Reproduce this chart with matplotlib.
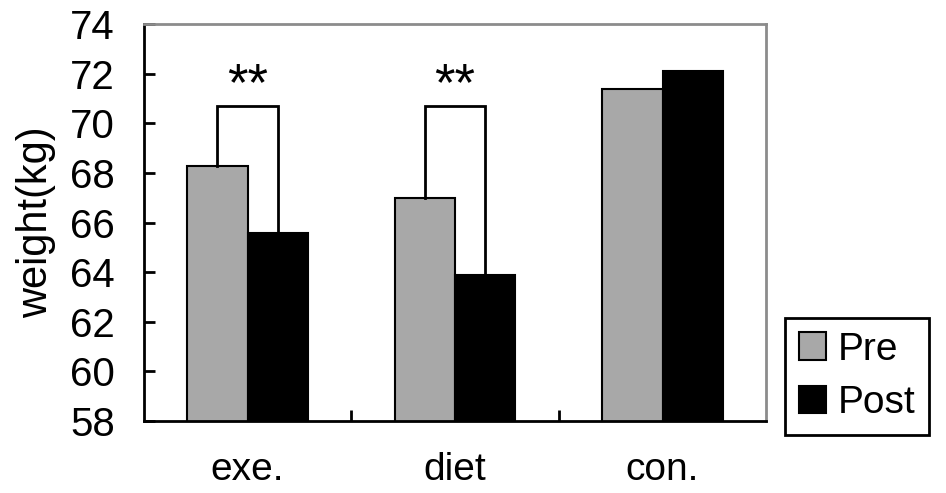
import matplotlib.pyplot as plt
import numpy as np

categories = ['exe.', 'diet', 'con.']
pre = [68.3, 67.0, 71.4]
post = [65.6, 63.9, 72.1]
series_names = ['Pre', 'Post']
sig_marks = ['**', '**', '']
bracket_top = 70.7
yticks = [58, 60, 62, 64, 66, 68, 70, 72, 74]


def main():
	plt.rcParams['font.family'] = ['Liberation Sans', 'DejaVu Sans']
	fig = plt.figure(figsize=(9.46, 4.93), dpi=100)
	ax = fig.add_axes([0.152, 0.146, 0.658, 0.805])

	x = np.arange(len(categories))
	w = 0.29
	b1 = ax.bar(x - w / 2, pre, w, color='#a8a8a8', edgecolor='black', linewidth=1.5, label=series_names[0])
	b2 = ax.bar(x + w / 2, post, w, color='black', edgecolor='black', linewidth=1.5, label=series_names[1])

	# significance brackets
	for i, mark in enumerate(sig_marks):
		if not mark:
			continue
		xl = x[i] - w / 2
		xr = x[i] + w / 2
		ax.plot([xl, xl, xr, xr], [pre[i], bracket_top, bracket_top, post[i]],
		        color='black', linewidth=2, solid_joinstyle='miter')
		ax.text(x[i], bracket_top - 0.2, mark, ha='center', va='bottom', fontsize=38)

	ax.set_xlim(-0.5, 2.5)
	ax.set_ylim(58, 74)
	ax.set_yticks(yticks)
	ax.tick_params(axis='y', direction='in', length=8, width=2, labelsize=29, pad=21)
	ax.set_xticks(x)
	ax.set_xticklabels(categories)
	ax.tick_params(axis='x', length=0, labelsize=28, pad=22)
	ax.set_xticks(x[:-1] + 0.5, minor=True)
	ax.tick_params(axis='x', which='minor', direction='in', length=8, width=2)
	ax.set_ylabel('weight(kg)', fontsize=30, labelpad=10)

	for side in ['left', 'bottom']:
		ax.spines[side].set_linewidth(2)
		ax.spines[side].set_color('black')
	for side in ['top', 'right']:
		ax.spines[side].set_linewidth(2)
		ax.spines[side].set_color('#8c8c8c')

	leg = ax.legend(handles=[b1, b2], loc='upper left', bbox_to_anchor=(0.83, 0.355),
	                bbox_transform=fig.transFigure, fontsize=28, frameon=True,
	                fancybox=False, framealpha=1, handlelength=0.7, handleheight=0.7,
	                handletextpad=0.3, borderpad=0.35, labelspacing=0.45, borderaxespad=0)
	leg.get_frame().set_edgecolor('black')
	leg.get_frame().set_linewidth(2)

	fig.savefig('out.png', dpi=100)


if __name__ == '__main__':
	main()
